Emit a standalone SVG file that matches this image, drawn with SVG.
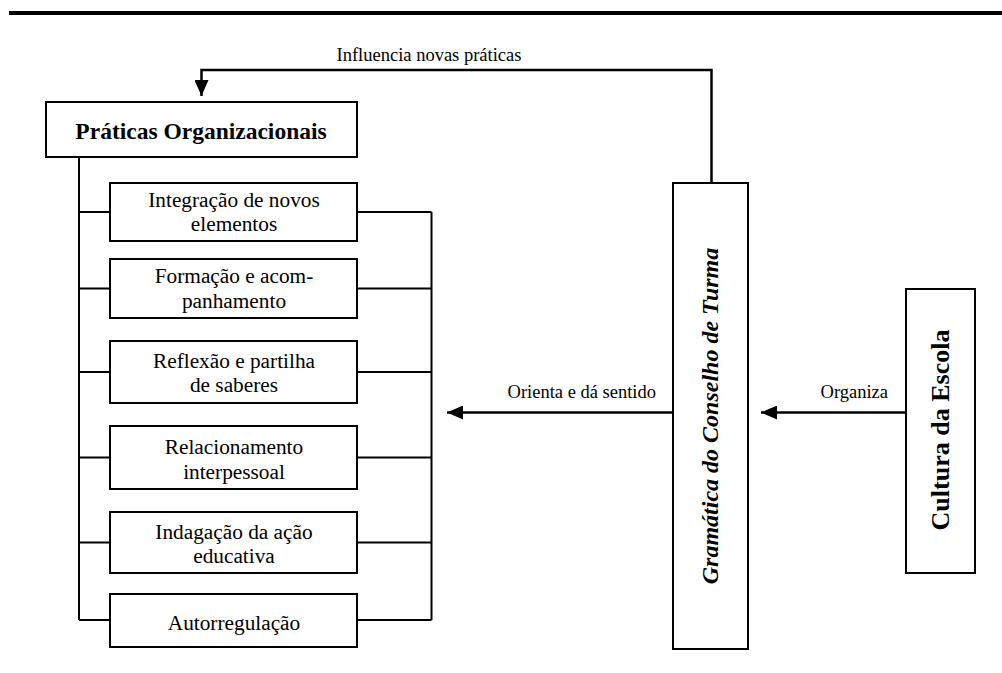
<svg xmlns="http://www.w3.org/2000/svg" width="1002" height="673" viewBox="0 0 1002 673">
  <style>
    .box { fill: #fff; stroke: #000; stroke-width: 2; }
    .wire { fill: none; stroke: #000; stroke-width: 2; }
    .arrow { fill: none; stroke: #000; stroke-width: 2.5; }
    .item { font-family: "Liberation Serif", "Times New Roman", serif; font-size: 21.3px; text-anchor: middle; fill: #000; }
    .label { font-family: "Liberation Serif", "Times New Roman", serif; font-size: 18.5px; fill: #000; }
    .title { font-family: "Liberation Serif", "Times New Roman", serif; font-weight: bold; fill: #000; text-anchor: middle; }
  </style>
  <defs>
    <marker id="head" viewBox="0 0 16 14" refX="16" refY="7" markerWidth="16" markerHeight="14" markerUnits="userSpaceOnUse" orient="auto">
      <path d="M0,0 L16,7 L0,14 Z" fill="#000"/>
    </marker>
  </defs>

  <rect width="1002" height="673" fill="#fff"/>
  <!-- heading rule -->
  <rect x="9" y="11" width="993" height="4" fill="#000"/>

  <!-- connectors -->
  <g id="connectors">
    <!-- feedback loop from the grammar box back to practices -->
    <path class="arrow" d="M711.5,183 V70 H201.5 V96" marker-end="url(#head)"/>
    <text class="label" x="429" y="61" text-anchor="middle">Influencia novas práticas</text>
    <!-- left bracket -->
    <path class="wire" d="M79,157 V620"/>
    <path class="wire" d="M79,212 H110 M79,288.5 H110 M79,372 H110 M79,457.5 H110 M79,542.5 H110 M79,620 H110"/>
    <!-- right bracket -->
    <path class="wire" d="M431.5,212 V620"/>
    <path class="wire" d="M357,212 H431.5 M357,288.5 H431.5 M357,372 H431.5 M357,457.5 H431.5 M357,542.5 H431.5 M357,620 H431.5"/>
    <!-- horizontal arrows -->
    <path class="arrow" d="M672,412.5 H447" marker-end="url(#head)"/>
    <text class="label" x="656" y="398" text-anchor="end">Orienta e dá sentido</text>
    <path class="arrow" d="M906,412.5 H761" marker-end="url(#head)"/>
    <text class="label" x="888" y="398" text-anchor="end">Organiza</text>
  </g>

  <g id="praticas">
    <rect class="box" x="46" y="102" width="311" height="55"/>
    <text class="title" x="201" y="139" font-size="23.5">Práticas Organizacionais</text>
  </g>

  <g id="integracao">
    <rect class="box" x="110" y="183" width="247" height="58"/>
    <text class="item" x="234" y="206.5">Integração de novos</text>
    <text class="item" x="234" y="231">elementos</text>
  </g>

  <g id="formacao">
    <rect class="box" x="110" y="259" width="247" height="59"/>
    <text class="item" x="234" y="283">Formação e acom-</text>
    <text class="item" x="234" y="307.5">panhamento</text>
  </g>

  <g id="reflexao">
    <rect class="box" x="110" y="341" width="247" height="62"/>
    <text class="item" x="234" y="367.5">Reflexão e partilha</text>
    <text class="item" x="234" y="392">de saberes</text>
  </g>

  <g id="relacionamento">
    <rect class="box" x="110" y="426" width="247" height="63"/>
    <text class="item" x="234" y="454">Relacionamento</text>
    <text class="item" x="234" y="478.5">interpessoal</text>
  </g>

  <g id="indagacao">
    <rect class="box" x="110" y="512" width="247" height="61"/>
    <text class="item" x="234" y="538.5">Indagação da ação</text>
    <text class="item" x="234" y="563">educativa</text>
  </g>

  <g id="autorregulacao">
    <rect class="box" x="110" y="594" width="247" height="53"/>
    <text class="item" x="234" y="629.5">Autorregulação</text>
  </g>

  <g id="gramatica">
    <rect class="box" x="673" y="183" width="75" height="466"/>
    <text class="title" font-style="italic" font-size="24" transform="translate(718,416) rotate(-90)">Gramática do Conselho de Turma</text>
  </g>

  <g id="cultura">
    <rect class="box" x="906" y="289" width="69" height="284"/>
    <text class="title" font-size="26" transform="translate(948.5,430) rotate(-90)">Cultura da Escola</text>
  </g>
</svg>
